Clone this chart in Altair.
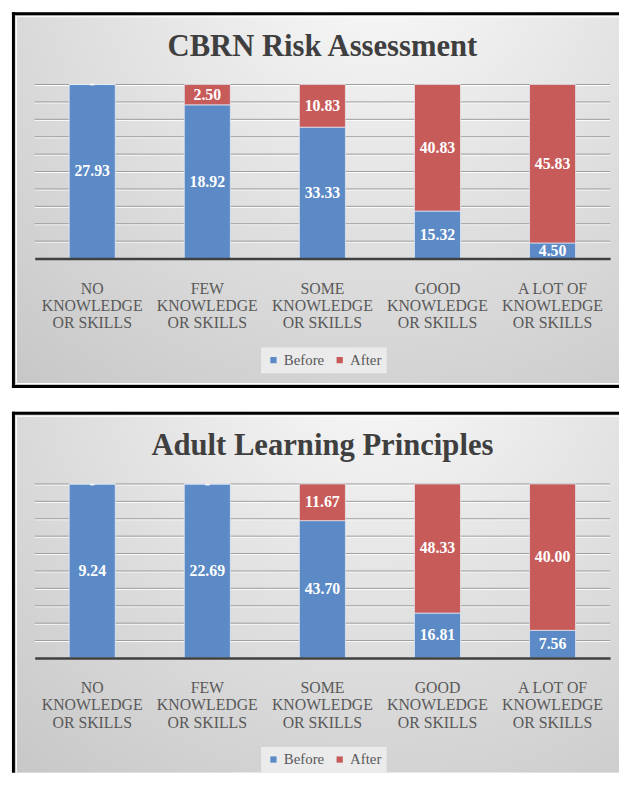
import altair as alt
import pandas as pd

categories = [
    "NO KNOWLEDGE OR SKILLS",
    "FEW KNOWLEDGE OR SKILLS",
    "SOME KNOWLEDGE OR SKILLS",
    "GOOD KNOWLEDGE OR SKILLS",
    "A LOT OF KNOWLEDGE OR SKILLS",
]
series = ["Before", "After"]

cbrn_before = [27.93, 18.92, 33.33, 15.32, 4.50]
cbrn_after = [0.0, 2.50, 10.83, 40.83, 45.83]

alp_before = [9.24, 22.69, 43.70, 16.81, 7.56]
alp_after = [0.0, 0.0, 11.67, 48.33, 40.00]

grid_levels = [0.1, 0.2, 0.3, 0.4, 0.5, 0.6, 0.7, 0.8, 0.9, 1.0]

BLUE = "#5b8ac6"
RED = "#c75b5a"
W, H = 582, 176
SERIF = "Liberation Serif"
LEFT, RIGHT, TOP = -23, 591, -73


def box(one, x1, x2, y1, y2, color):
    return alt.Chart(one).mark_rect(fill=color, strokeWidth=0).encode(
        x=alt.value(x1), x2=alt.value(x2), y=alt.value(y1), y2=alt.value(y2))


def make_panel(title, before, after, bottom, bottom_border):
    rows = []
    for i, c in enumerate(categories):
        rows.append({"cat": c, "series": "Before", "ord": 0, "value": before[i]})
        rows.append({"cat": c, "series": "After", "ord": 1, "value": after[i]})
    df = pd.DataFrame(rows)
    one = pd.DataFrame({"t": [title]})
    grid = pd.DataFrame({"g": grid_levels})

    gradient = {
        "gradient": "radial",
        "x1": 0.6, "y1": 0.08, "r1": 0,
        "x2": 0.6, "y2": 0.08, "r2": 0.95,
        "stops": [
            {"offset": 0, "color": "#fbfbfb"},
            {"offset": 0.35, "color": "#e8e8e8"},
            {"offset": 1, "color": "#c6c6c6"},
        ],
    }
    layers = [
        box(one, LEFT, RIGHT, TOP, bottom, gradient),
        box(one, LEFT, RIGHT, TOP, TOP + 3, "black"),
        box(one, LEFT, LEFT + 3, TOP, bottom, "black"),
        box(one, LEFT + 4, RIGHT, TOP + 4, TOP + 5, "white"),
        box(one, LEFT + 4, LEFT + 5, TOP + 4, bottom - (5 if bottom_border else 0), "white"),
    ]
    if bottom_border:
        layers.append(box(one, LEFT, RIGHT, bottom - 3, bottom, "black"))
        layers.append(box(one, LEFT + 4, RIGHT, bottom - 5, bottom - 4, "white"))

    title_mark = alt.Chart(one).mark_text(
        font=SERIF, fontSize=31, fontWeight="bold", color="#3f3f3f",
        align="center", baseline="alphabetic",
    ).encode(x=alt.value(W / 2), y=alt.value(-29), text="t:N")

    yscale = alt.Scale(domain=[0, 1], nice=False)
    grid_hi = alt.Chart(grid).mark_rule(color="white", strokeWidth=1, yOffset=1).encode(
        x=alt.value(0), x2=alt.value("width"),
        y=alt.Y("g:Q", scale=yscale, axis=None))
    grid_lo = alt.Chart(grid).mark_rule(color="#9c9c9c", strokeWidth=1).encode(
        x=alt.value(0), x2=alt.value("width"),
        y=alt.Y("g:Q", scale=yscale, axis=None))

    xaxis = alt.Axis(
        title=None, labelAngle=0, labelFont=SERIF, labelFontSize=16,
        labelColor="#595959", labelLineHeight=17.5, labelPadding=22,
        ticks=False, grid=False, domainColor="#404040", domainWidth=2.5,
        zindex=1, labelOverlap=False,
        labelExpr="[replace(datum.label, ' KNOWLEDGE OR SKILLS', ''), 'KNOWLEDGE', 'OR SKILLS']",
    )
    xenc = alt.X("cat:N", sort=categories,
                 scale=alt.Scale(paddingInner=0.6, paddingOuter=0.3), axis=xaxis)

    base = alt.Chart(df).transform_stack(
        stack="value", groupby=["cat"], as_=["y0", "y1"], offset="normalize",
        sort=[alt.SortField("ord", order="ascending")],
    ).transform_calculate(
        mid="(datum.y0 + datum.y1) / 2",
        lbl="datum.value == 0 ? '-' : format(datum.value, '.2f')",
    )
    bars = base.mark_bar(stroke="#e8eef6", strokeWidth=1, strokeOpacity=0.7).encode(
        x=xenc,
        y=alt.Y("y0:Q", scale=yscale, axis=None),
        y2="y1:Q",
        color=alt.Color(
            "series:N",
            scale=alt.Scale(domain=series, range=[BLUE, RED]),
            legend=alt.Legend(
                orient="none", legendX=229, legendY=266, direction="horizontal",
                title=None, symbolType="square", symbolSize=40, symbolStrokeWidth=0,
                labelFont=SERIF, labelFontSize=15, labelColor="#595959",
                fillColor="#ebebeb", padding=5, columnPadding=8, labelOffset=3,
            ),
        ),
    )
    labels = base.mark_text(
        font=SERIF, fontSize=16, fontWeight="bold", color="white",
        align="center", baseline="middle",
    ).encode(
        x=xenc,
        y=alt.Y("mid:Q", scale=yscale, axis=None),
        text="lbl:N",
    )

    return alt.layer(*layers, title_mark, grid_hi, grid_lo, bars, labels).properties(
        width=W, height=H,
    )


p1 = make_panel("CBRN Risk Assessment", cbrn_before, cbrn_after, 307, True)
p2 = make_panel("Adult Learning Principles", alp_before, alp_after, 292, False)

chart = alt.vconcat(p1, p2, spacing=24).resolve_legend(
    color="independent"
).resolve_scale(color="independent").properties(
    padding={"left": 4, "top": 0, "right": 0, "bottom": 0},
).configure(background="white").configure_view(stroke=None)

chart.save("out.html", embed_options={"renderer": "svg", "actions": False})
